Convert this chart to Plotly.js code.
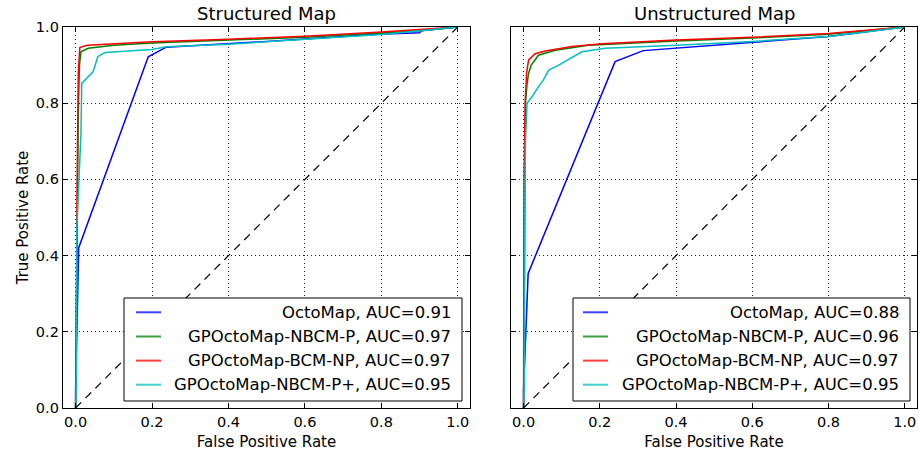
<!DOCTYPE html>
<html>
<head>
<meta charset="utf-8">
<script src="https://cdn.plot.ly/plotly-3.0.1.min.js"></script>
<style>
  html, body { margin: 0; padding: 0; background: #fff; }
  #chart { width: 919px; height: 452px; }
</style>
</head>
<body>
<div id="chart"></div>
<script>
// ROC curves: false positive rate vs. true positive rate
const methods = ["OctoMap", "GPOctoMap-NBCM-P", "GPOctoMap-BCM-NP", "GPOctoMap-NBCM-P+"];
const colors = ["#0000ff", "#008000", "#ff0000", "#00bfbf"];
const panelTitles = ["Structured Map", "Unstructured Map"];

const aucStructured = [0.91, 0.97, 0.97, 0.95];
const aucUnstructured = [0.88, 0.96, 0.97, 0.95];

// Structured map
const octoS_fpr = [0, 0.0, 0.008, 0.19, 0.237, 0.5, 0.79, 0.9, 0.905, 1.0];
const octoS_tpr = [0, 0.05, 0.42, 0.922, 0.947, 0.962, 0.981, 0.985, 0.99, 1.0];
const nbcmS_fpr = [0, 0.003, 0.005, 0.007, 0.010, 0.014, 0.033, 0.1, 0.2, 0.4, 0.6, 0.8, 0.9, 1.0];
const nbcmS_tpr = [0, 0.3, 0.6, 0.78, 0.9, 0.935, 0.944, 0.952, 0.958, 0.965, 0.973, 0.984, 0.99, 1.0];
const bcmS_fpr = [0, 0.001, 0.004, 0.007, 0.009, 0.011, 0.03, 0.1, 0.2, 0.4, 0.6, 0.8, 0.9, 1.0];
const bcmS_tpr = [0, 0.2, 0.6, 0.88, 0.93, 0.946, 0.952, 0.956, 0.961, 0.968, 0.976, 0.987, 0.993, 1.0];
const nbcmpS_fpr = [0, 0.002, 0.003, 0.014, 0.016, 0.033, 0.046, 0.058, 0.077, 0.2, 0.237, 0.4, 0.6, 0.8, 0.9, 1.0];
const nbcmpS_tpr = [0, 0.06, 0.47, 0.72, 0.852, 0.87, 0.883, 0.922, 0.933, 0.941, 0.948, 0.955, 0.967, 0.98, 0.99, 1.0];

// Unstructured map
const octoU_fpr = [0, 0.0, 0.012, 0.24, 0.314, 0.6, 0.8, 1.0];
const octoU_tpr = [0, 0.05, 0.353, 0.909, 0.938, 0.96, 0.975, 1.0];
const nbcmU_fpr = [0, 0.001, 0.003, 0.005, 0.009, 0.013, 0.02, 0.039, 0.083, 0.17, 0.4, 0.6, 0.8, 1.0];
const nbcmU_tpr = [0, 0.2, 0.6, 0.8, 0.85, 0.878, 0.9, 0.926, 0.939, 0.952, 0.963, 0.971, 0.981, 1.0];
const bcmU_fpr = [0, 0.001, 0.004, 0.008, 0.013, 0.03, 0.057, 0.127, 0.205, 0.4, 0.6, 0.8, 1.0];
const bcmU_tpr = [0, 0.6, 0.8, 0.88, 0.913, 0.93, 0.937, 0.949, 0.956, 0.966, 0.973, 0.983, 1.0];
const nbcmpU_fpr = [0, 0.002, 0.003, 0.005, 0.009, 0.022, 0.039, 0.052, 0.066, 0.092, 0.153, 0.214, 0.4, 0.6, 0.8, 1.0];
const nbcmpU_tpr = [0, 0.06, 0.5, 0.7, 0.8, 0.817, 0.843, 0.861, 0.887, 0.9, 0.935, 0.944, 0.952, 0.962, 0.975, 1.0];

// chance line
const diag = [0, 1];
const tickVals = [0, 0.2, 0.4, 0.6, 0.8, 1.0];
const tickText = ["0.0", "0.2", "0.4", "0.6", "0.8", "1.0"];

const FONT = "DejaVu Sans, Liberation Sans, sans-serif";
const W = 919, H = 452;
const M = { l: 63, r: 2, t: 27, b: 44 };
const px = x => (x - M.l) / (W - M.l - M.r);
const py = y => (H - M.b - y) / (H - M.t - M.b);

const panels = [
  { xa: "x", ya: "y", curves: [[octoS_fpr, octoS_tpr], [nbcmS_fpr, nbcmS_tpr], [bcmS_fpr, bcmS_tpr], [nbcmpS_fpr, nbcmpS_tpr]], auc: aucStructured },
  { xa: "x2", ya: "y2", curves: [[octoU_fpr, octoU_tpr], [nbcmU_fpr, nbcmU_tpr], [bcmU_fpr, bcmU_tpr], [nbcmpU_fpr, nbcmpU_tpr]], auc: aucUnstructured }
];

const traces = [];
panels.forEach(p => {
  p.curves.forEach((c, i) => {
    traces.push({
      x: c[0], y: c[1], xaxis: p.xa, yaxis: p.ya, type: "scatter", mode: "lines",
      name: methods[i], showlegend: false, hoverinfo: "skip",
      line: { color: colors[i], width: 1.5 }
    });
  });
  traces.push({
    x: diag, y: diag, xaxis: p.xa, yaxis: p.ya, type: "scatter", mode: "lines",
    showlegend: false, hoverinfo: "skip",
    line: { color: "#000", width: 1.2, dash: "8px,6px" }
  });
});

function axisBase() {
  return {
    range: [-0.033, 1.032],
    tickvals: tickVals, ticktext: tickText,
    ticks: "inside", ticklen: 5, tickwidth: 1, tickcolor: "#000",
    showline: true, linecolor: "#000", linewidth: 1.2, mirror: "ticks",
    showgrid: true, gridcolor: "#222", gridwidth: 1, griddash: "1px,3px",
    zeroline: false,
    tickfont: { family: FONT, size: 14.5, color: "#000" },
    fixedrange: true
  };
}

const xaxis = Object.assign(axisBase(), {
  domain: [0, px(470)], anchor: "y",
  title: { text: "False Positive Rate", font: { family: FONT, size: 15, color: "#000" }, standoff: 8 }
});
const xaxis2 = Object.assign(axisBase(), {
  domain: [px(511), 1], anchor: "y2",
  title: { text: "False Positive Rate", font: { family: FONT, size: 15, color: "#000" }, standoff: 8 }
});
const yaxis = Object.assign(axisBase(), {
  range: [0, 1], anchor: "x", domain: [0, 1],
  title: { text: "True Positive Rate", font: { family: FONT, size: 15, color: "#000" }, standoff: 3 }
});
const yaxis2 = Object.assign(axisBase(), {
  range: [0, 1], anchor: "x2", domain: [0, 1], showticklabels: false
});

// hand-built legends with right-aligned labels
const shapes = [];
const annotations = [];
const legendBoxes = [
  { x0: 124, x1: 462, lineX0: 136, lineX1: 161, textRight: 453 },
  { x0: 573, x1: 910, lineX0: 583, lineX1: 608, textRight: 901 }
];
const rowY = [312.3, 336.5, 360.6, 384.7];
legendBoxes.forEach((b, k) => {
  shapes.push({
    type: "rect", xref: "paper", yref: "paper",
    x0: px(b.x0), x1: px(b.x1), y0: py(401), y1: py(298),
    fillcolor: "#fff", line: { color: "#000", width: 1 }, layer: "above"
  });
  methods.forEach((m, i) => {
    shapes.push({
      type: "line", xref: "paper", yref: "paper",
      x0: px(b.lineX0), x1: px(b.lineX1), y0: py(rowY[i]), y1: py(rowY[i]),
      line: { color: colors[i], width: 2 }, opacity: 0.75, layer: "above"
    });
    annotations.push({
      xref: "paper", yref: "paper", x: px(b.textRight), y: py(rowY[i]),
      xanchor: "right", yanchor: "middle", showarrow: false,
      text: m + ", AUC=" + panels[k].auc[i].toFixed(2),
      font: { family: FONT, size: 16.5, color: "#000" }
    });
  });
});

// panel titles
annotations.push({
  xref: "paper", yref: "paper", x: px((63 + 470) / 2), y: py(14),
  xanchor: "center", yanchor: "middle", showarrow: false,
  text: panelTitles[0], font: { family: FONT, size: 18, color: "#000" }
});
annotations.push({
  xref: "paper", yref: "paper", x: px((511 + 917) / 2), y: py(14),
  xanchor: "center", yanchor: "middle", showarrow: false,
  text: panelTitles[1], font: { family: FONT, size: 18, color: "#000" }
});

const layout = {
  width: W, height: H,
  margin: M,
  paper_bgcolor: "#fff", plot_bgcolor: "#fff",
  font: { family: FONT, color: "#000" },
  showlegend: false,
  xaxis, yaxis, xaxis2, yaxis2,
  shapes, annotations
};

Plotly.newPlot("chart", traces, layout, { displayModeBar: false, staticPlot: true });
</script>
</body>
</html>
